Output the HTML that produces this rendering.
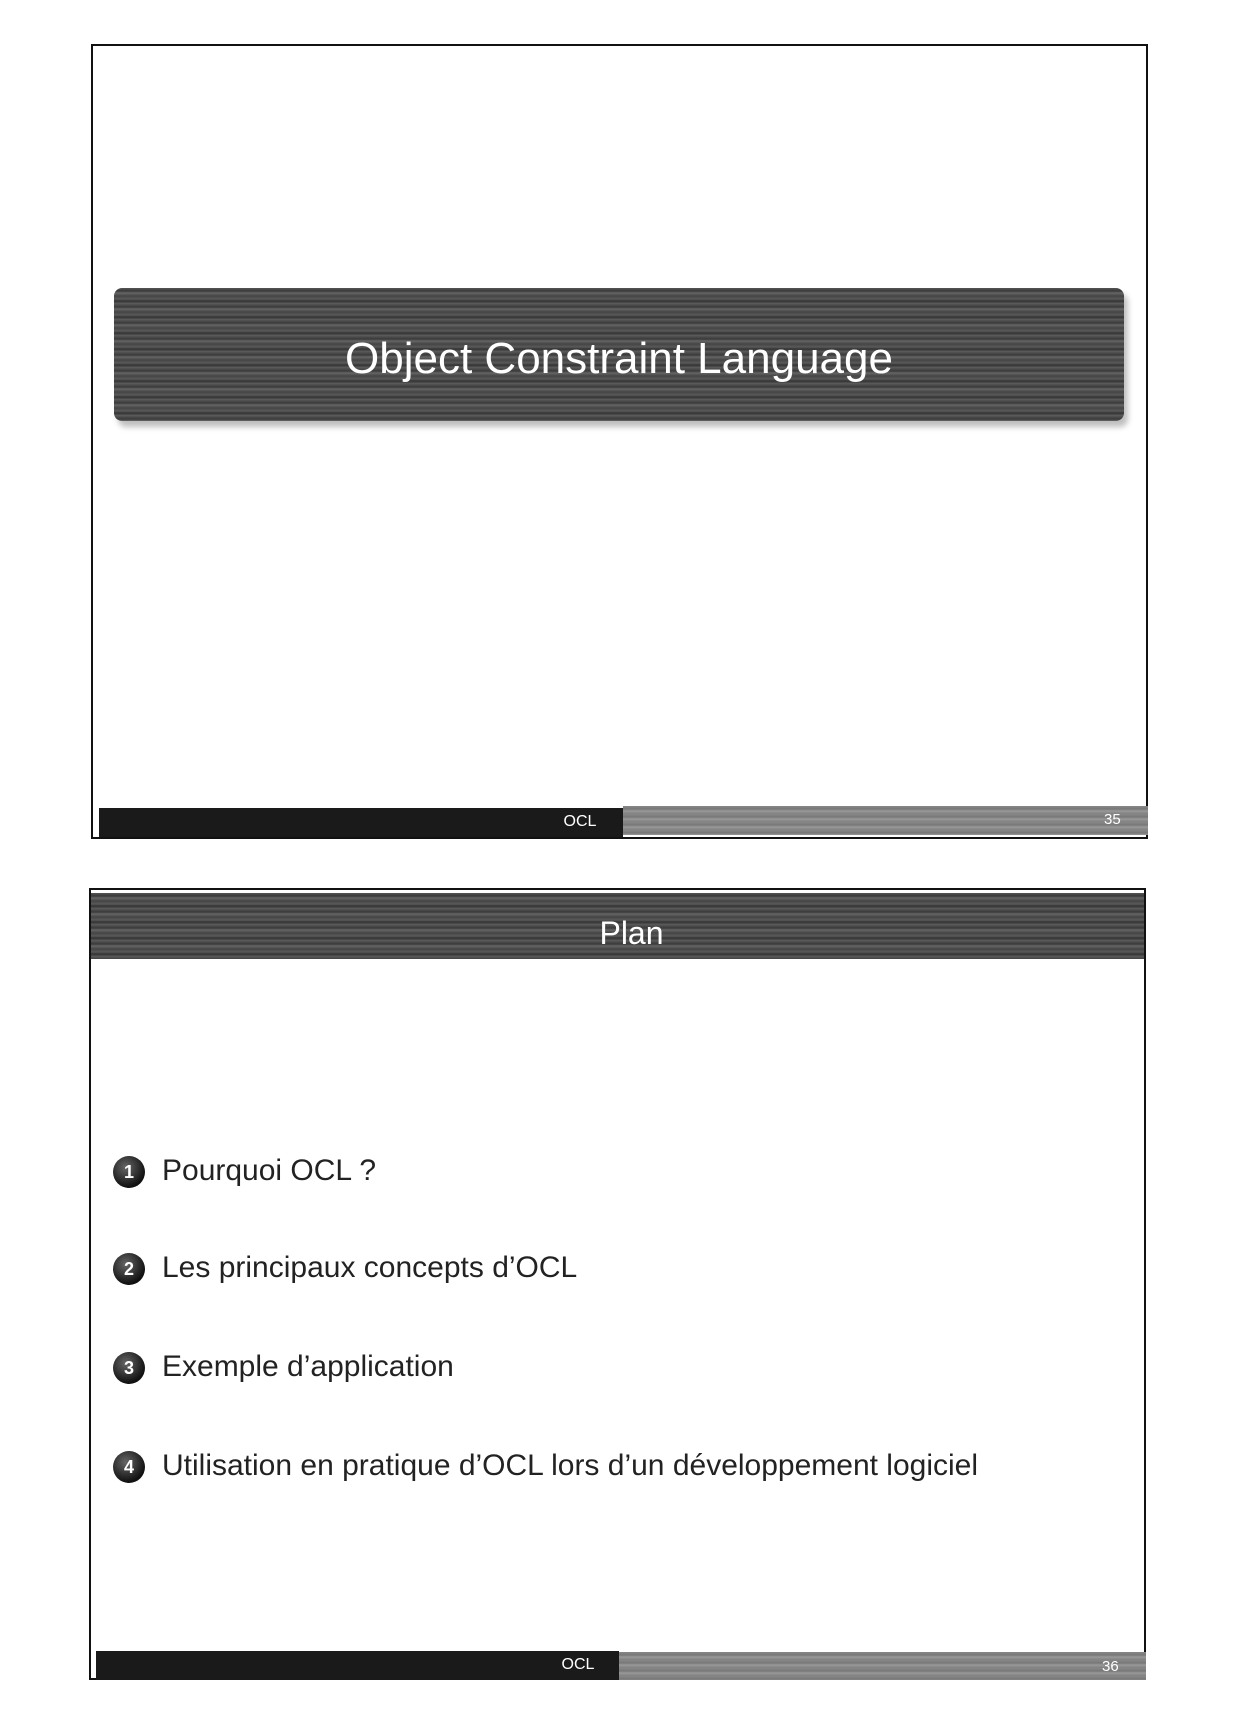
<!DOCTYPE html>
<html><head><meta charset="utf-8"><style>
body{margin:0;width:1240px;height:1719px;background:#fff;position:relative;overflow:hidden;font-family:"Liberation Sans",sans-serif}
.abs{position:absolute}
.frame{border:2px solid #111;box-sizing:border-box}
.stripe{background:
repeating-linear-gradient(180deg,#555 0px,#3a3a3a 3px,#666 5px,#444 8px,#5a5a5a 11px,#333 13px,#606060 16px);}
.stripe2{background:repeating-linear-gradient(180deg,#888 0,#777 3px,#999 5px,#808080 8px);}
.w{color:#fff}
.item{position:absolute;left:162px;font-size:30px;color:#222;line-height:1}
.bul{position:absolute;left:113px;width:32px;height:32px;border-radius:50%;background:radial-gradient(circle at 40% 35%,#666,#111 70%);color:#fff;font-size:18px;text-align:center;line-height:32px;font-weight:bold}
</style></head><body>
<!-- slide 35 -->
<div class="abs frame" style="left:91px;top:44px;width:1057px;height:795px"></div>
<div class="abs stripe" style="left:114px;top:288px;width:1010px;height:133px;border-radius:8px;box-shadow:4px 6px 6px rgba(0,0,0,0.25)"></div>
<div class="abs w" style="left:114px;top:334px;width:1010px;text-align:center;font-size:44px">Object Constraint Language</div>
<div class="abs" style="left:99px;top:808px;width:524px;height:29px;background:#1a1a1a"></div>
<div class="abs stripe2" style="left:623px;top:806px;width:525px;height:29px"></div>
<div class="abs w" style="left:540px;top:813px;width:80px;text-align:center;font-size:16px">OCL</div>
<div class="abs w" style="left:1104px;top:811px;font-size:15px">35</div>
<!-- slide 36 -->
<div class="abs frame" style="left:89px;top:888px;width:1057px;height:792px"></div>
<div class="abs stripe" style="left:91px;top:893px;width:1053px;height:66px"></div>
<div class="abs w" style="left:91px;top:915px;width:1053px;text-align:center;font-size:32px;padding-left:28px;box-sizing:border-box">Plan</div>
<div class="bul" style="top:1156px">1</div><div class="item" style="top:1156px">Pourquoi OCL ?</div>
<div class="bul" style="top:1253px">2</div><div class="item" style="top:1253px">Les principaux concepts d’OCL</div>
<div class="bul" style="top:1352px">3</div><div class="item" style="top:1352px">Exemple d’application</div>
<div class="bul" style="top:1451px">4</div><div class="item" style="top:1451px">Utilisation en pratique d’OCL lors d’un développement logiciel</div>
<div class="abs" style="left:96px;top:1651px;width:523px;height:29px;background:#1a1a1a"></div>
<div class="abs stripe2" style="left:619px;top:1652px;width:527px;height:28px"></div>
<div class="abs w" style="left:538px;top:1656px;width:80px;text-align:center;font-size:16px">OCL</div>
<div class="abs w" style="left:1102px;top:1658px;font-size:15px">36</div>
</body></html>
